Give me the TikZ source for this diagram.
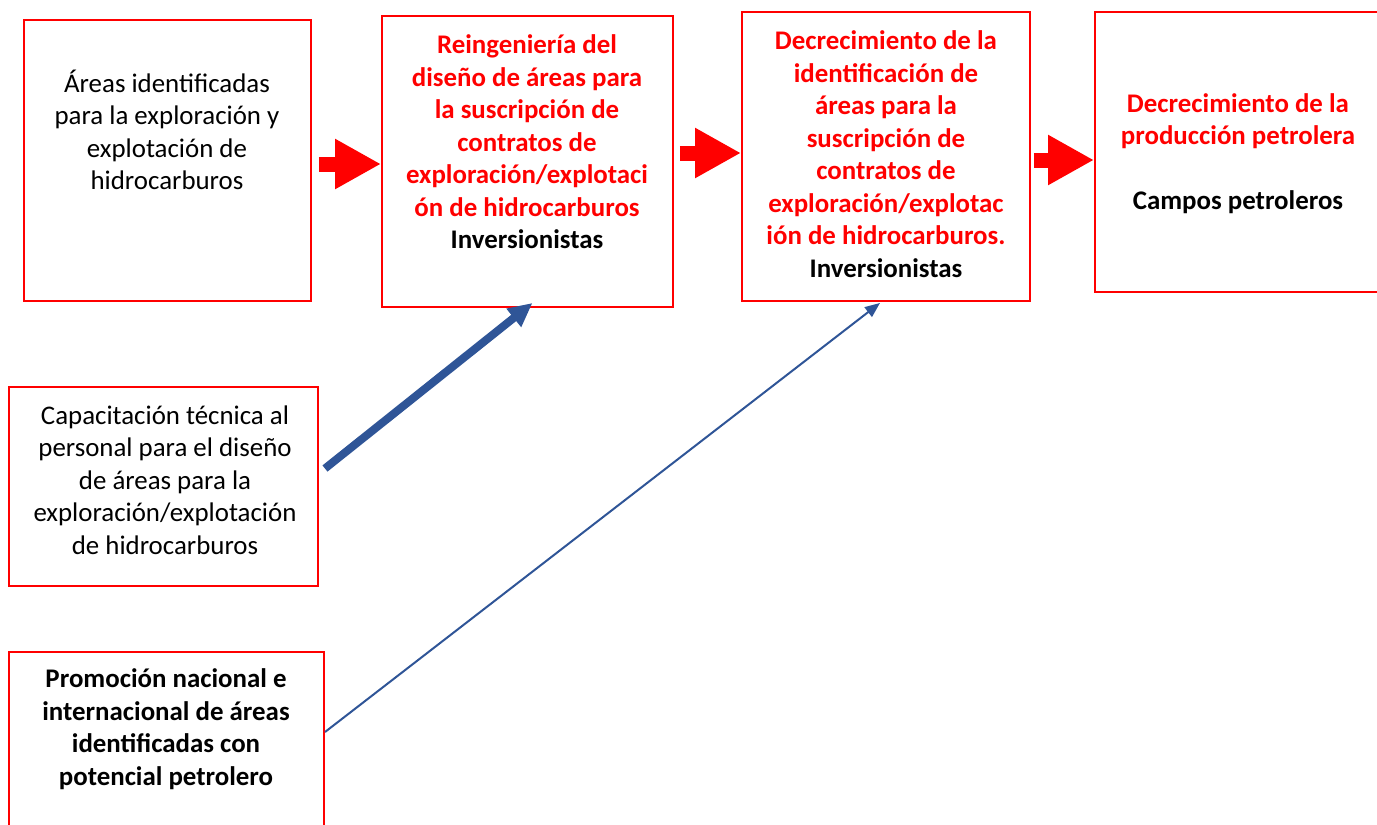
\documentclass[tikz,border=0pt]{standalone}
\usepackage{fontspec}
\setmainfont{Carlito}
\usetikzlibrary{arrows.meta}
\definecolor{arrowblue}{RGB}{47,85,151}
\begin{document}
\begin{tikzpicture}[x=0.02cm, y=-0.02cm,
    box/.style={draw=red, line width=0.04cm, rectangle, inner sep=0pt},
    txt/.style={align=center, font=\fontsize{15.3}{18.5}\selectfont},
    hltxt/.style={txt, font=\fontsize{15.3}{18.5}\selectfont\bfseries, text=red},
    blockarrow/.style={red, line width=0.3cm, -{Triangle[length=0.92cm, width=0.94cm]}},
    thickarrow/.style={arrowblue, line width=0.16cm, -{Triangle[length=0.48cm, width=0.44cm]}},
    thinarrow/.style={arrowblue, line width=0.04cm, -{Triangle[length=0.3cm, width=0.24cm]}}]
    \useasboundingbox (0,0) rectangle (1377,825);
    % Boxes
    \node[box, minimum width=5.74cm, minimum height=5.62cm] (a) at (167.5,160.5) {};
    \node[box, minimum width=5.82cm, minimum height=5.82cm] (b) at (527.5,161.5) {};
    \node[box, minimum width=5.76cm, minimum height=5.78cm] (c) at (886,156.5) {};
    \node[box, minimum width=6.1cm, minimum height=5.6cm] (d) at (1247.5,152) {};
    \node[box, minimum width=6.18cm, minimum height=3.98cm] (e) at (163.5,486.5) {};
    \node[box, minimum width=6.3cm, minimum height=4.96cm] (f) at (166.5,776) {};

    % Texts
    \node[txt] (a-txt) at (167,130) {Áreas identificadas\\para la exploración y\\explotación de\\hidrocarburos};
    \node[hltxt] (b-txt) at (527,142) {Reingeniería del\\diseño de áreas para\\la suscripción de\\contratos de\\exploración/explotaci\\ón de hidrocarburos\\\textcolor{black}{Inversionistas}};
    \node[hltxt] (c-txt) at (886,154) {Decrecimiento de la\\identificación de\\áreas para la\\suscripción de\\contratos de\\exploración/explotac\\ión de hidrocarburos.\\\textcolor{black}{Inversionistas}};
    \node[hltxt] (d-txt) at (1238,153.5) {Decrecimiento de la\\producción petrolera\\[18.5pt]\textcolor{black}{Campos petroleros}};
    \node[txt] (e-txt) at (165,480) {Capacitación técnica al\\personal para el diseño\\de áreas para la\\exploración/explotación\\de hidrocarburos};
    \node[txt, font=\fontsize{15.3}{18.5}\selectfont\bfseries] (f-txt) at (166,729) {Promoción nacional e\\internacional de áreas\\identificadas con\\potencial petrolero};

    % Red block arrows
    \draw[blockarrow, shorten <=0.14cm] (a.east |- 0,164) -- (b.west |- 0,164);
    \draw[blockarrow, shorten <=0.12cm] (b.east |- 0,153) -- (c.west |- 0,153);
    \draw[blockarrow, shorten <=0.06cm] (c.east |- 0,160) -- (d.west |- 0,160);

    % Blue arrows
    \draw[thickarrow] ([shift={(6,-18)}]e.east) -- ([shift={(5,-5)}]b.south);
    \draw[thinarrow] ([shift={(0,81)}]f.north east) -- ([shift={(-6,1)}]c.south);
\end{tikzpicture}
\end{document}
